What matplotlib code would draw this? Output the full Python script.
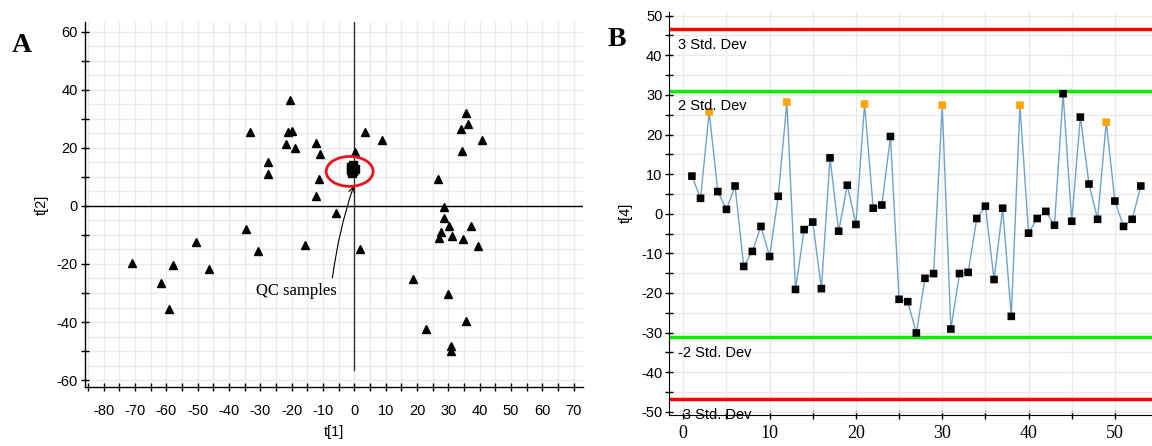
import matplotlib
matplotlib.use("Agg")
import matplotlib.pyplot as plt
from matplotlib.patches import Ellipse
from matplotlib.ticker import MultipleLocator, FixedLocator

plt.rcParams["axes.unicode_minus"] = False

# ---------------- Panel A data (scores t[1] vs t[2]) ----------------
samples_t1 = [-71.1, -61.6, -59.2, -57.9, -50.7, -46.5, -34.6, -33.2, -30.9, -27.7,
              -27.7, -21.8, -21.3, -20.4, -19.9, -19.1, -15.9, -12.3, -10.9, -11.4,
              -12.3, -5.9, 0.1, 1.9, 3.3, 8.7, 18.8, 22.9, 26.6, 27.1,
              27.6, 28.5, 28.5, 29.8, 30.3, 30.8, 30.8, 31.3, 34.0, 34.5,
              34.8, 35.8, 36.3, 35.8, 37.3, 39.5, 40.8]
samples_t2 = [-19.8, -26.6, -35.6, -20.3, -12.5, -21.8, -8.0, 25.4, -15.4, 15.0,
              11.1, 21.5, 25.4, 36.6, 25.8, 20.1, -13.3, 21.8, 18.0, 9.2,
              3.3, -2.5, 18.5, -14.9, 25.4, 22.9, -25.1, -42.3, 9.2, -10.9,
              -8.9, -0.2, -4.1, -30.5, -7.0, -48.2, -50.1, -10.4, 26.4, 19.0,
              -11.4, 32.1, 28.2, -39.8, -7.0, -13.9, 22.9]
qc_t1 = [-1.2, -0.4, 0.1, -0.8, -0.3, -1.0]
qc_t2 = [13.5, 14.2, 12.8, 11.2, 12.0, 12.5]

# ---------------- Panel B data (t[4] control chart) ----------------
obs_index = list(range(1, 54))
t4_values = [9.5, 3.9, 25.7, 5.6, 1.1, 7.0, -13.3, -9.5, -3.2, -10.8,
             4.4, 28.2, -19.1, -4.0, -2.1, -18.9, 14.1, -4.4, 7.2, -2.7,
             27.7, 1.4, 2.2, 19.5, -21.6, -22.2, -30.1, -16.3, -15.1, 27.4,
             -29.1, -15.1, -14.8, -1.2, 1.9, -16.6, 1.4, -25.9, 27.4, -4.9,
             -1.2, 0.6, -2.9, 30.3, -1.9, 24.4, 7.5, -1.4, 23.1, 3.2,
             -3.2, -1.4, 7.0]
highlight_index = [3, 12, 21, 30, 39, 49]
sd2_limit = 31.1
sd3_limit = 46.7
limit_labels = ["3 Std. Dev", "2 Std. Dev", "-2 Std. Dev", "-3 Std. Dev"]

W, H = 1152, 446
fig = plt.figure(figsize=(W / 100, H / 100), dpi=100)

sans = "Liberation Sans"
serif = "Liberation Serif"
grid_c = "#ebebeb"

# ================= Panel A =================
axA = fig.add_axes([85 / W, 1 - 387.3 / H, (583 - 85) / W, (387.3 - 21.7) / H])
axA.set_xlim(-86, 73)
axA.set_ylim(-62.5, 63.5)
for s in ["top", "right"]:
    axA.spines[s].set_visible(False)
axA.spines["left"].set_linewidth(1.0)
axA.spines["bottom"].set_linewidth(1.0)

axA.xaxis.set_major_locator(FixedLocator(list(range(-80, 71, 10))))
axA.xaxis.set_minor_locator(FixedLocator(list(range(-85, 71, 10))))
axA.yaxis.set_major_locator(FixedLocator(list(range(-60, 61, 20))))
axA.yaxis.set_minor_locator(FixedLocator(list(range(-50, 61, 20))))
axA.tick_params(which="both", direction="inout", length=6, width=1, colors="black")
axA.tick_params(axis="x", which="major", pad=9, labelsize=10.5)
axA.tick_params(axis="y", which="major", pad=2, labelsize=10.5)
for lab in axA.get_xticklabels() + axA.get_yticklabels():
    lab.set_fontfamily(sans)

# grid every 5
for gx in range(-85, 74, 5):
    axA.axvline(gx, color=grid_c, lw=1.0, zorder=0)
for gy in range(-60, 64, 5):
    axA.axhline(gy, color=grid_c, lw=1.0, zorder=0)

axA.axhline(0, color="black", lw=1.0, zorder=1)
axA.plot([0, 0], [-56.5, 63.5], color="#333333", lw=1.0, zorder=1)

axA.plot(samples_t1, samples_t2, linestyle="none", marker="^", markersize=6,
         color="black", zorder=3)
axA.plot(qc_t1, qc_t2, linestyle="none", marker="s", markersize=6,
         color="black", zorder=3)

axA.add_patch(Ellipse((-1.5, 11.9), 15.0, 10.3, fill=False, edgecolor="#e8141b",
                      lw=2.0, zorder=4))
axA.annotate("", xy=(-0.2, 6.9), xytext=(-7.0, -24.8),
             arrowprops=dict(arrowstyle="->", color="black", lw=0.8,
                             shrinkA=0, shrinkB=0,
                             connectionstyle="arc3,rad=-0.05"))
axA.text(-18.5, -29.3, "QC samples", ha="center", va="center", fontsize=12,
         family=serif)

axA.set_xlabel("t[1]", fontsize=10.5, family=sans, labelpad=5)
axA.set_ylabel("t[2]", fontsize=10.5, family=sans, labelpad=6)
fig.text(22 / W, 1 - 45 / H, "A", fontsize=20, fontweight="bold", family=serif,
         ha="center", va="center")

# ================= Panel B =================
axB = fig.add_axes([669.3 / W, 1 - 415 / H, (1152 - 669.3) / W, (415 - 11.7) / H])
axB.set_xlim(-1.62, 54.3)
axB.set_ylim(-50.8, 51)
for s in ["top", "right"]:
    axB.spines[s].set_visible(False)

axB.xaxis.set_major_locator(MultipleLocator(10))
axB.xaxis.set_minor_locator(MultipleLocator(5))
axB.yaxis.set_major_locator(MultipleLocator(10))
axB.yaxis.set_minor_locator(MultipleLocator(5))
axB.tick_params(which="both", direction="inout", length=6, width=1, colors="black")
axB.tick_params(axis="x", which="major", pad=4, labelsize=13)
axB.tick_params(axis="y", which="major", pad=2, labelsize=10.5)
for lab in axB.get_xticklabels():
    lab.set_fontfamily(serif)
for lab in axB.get_yticklabels():
    lab.set_fontfamily(sans)

axB.grid(which="both", color=grid_c, lw=1.0, zorder=0)
axB.set_axisbelow(True)

for lim, col in [(sd3_limit, "#ff0000"), (sd2_limit, "#00ee00"),
                 (-sd2_limit, "#00ee00"), (-sd3_limit, "#ff0000")]:
    axB.axhline(lim, color=col, lw=2.5, zorder=2)

axB.plot(obs_index, t4_values, color="#6fa3cc", lw=1.0, zorder=3)
colors = ["#ffa500" if i in highlight_index else "black" for i in obs_index]
sc = axB.scatter(obs_index, t4_values, marker="s", s=30, c=colors, zorder=4,
                 linewidths=0)
sc.set_snap(False)

for lab, lim in zip(limit_labels, [sd3_limit, sd2_limit, -sd2_limit, -sd3_limit]):
    axB.text(-0.6, lim - 4.0, lab, ha="left", va="center", fontsize=10.5,
             family=sans, zorder=5)

axB.set_ylabel("t[4]", fontsize=10.5, family=sans, labelpad=6)
fig.text(617 / W, 1 - 40 / H, "B", fontsize=20, fontweight="bold", family=serif,
         ha="center", va="center")

fig.savefig("out.png", dpi=100)
